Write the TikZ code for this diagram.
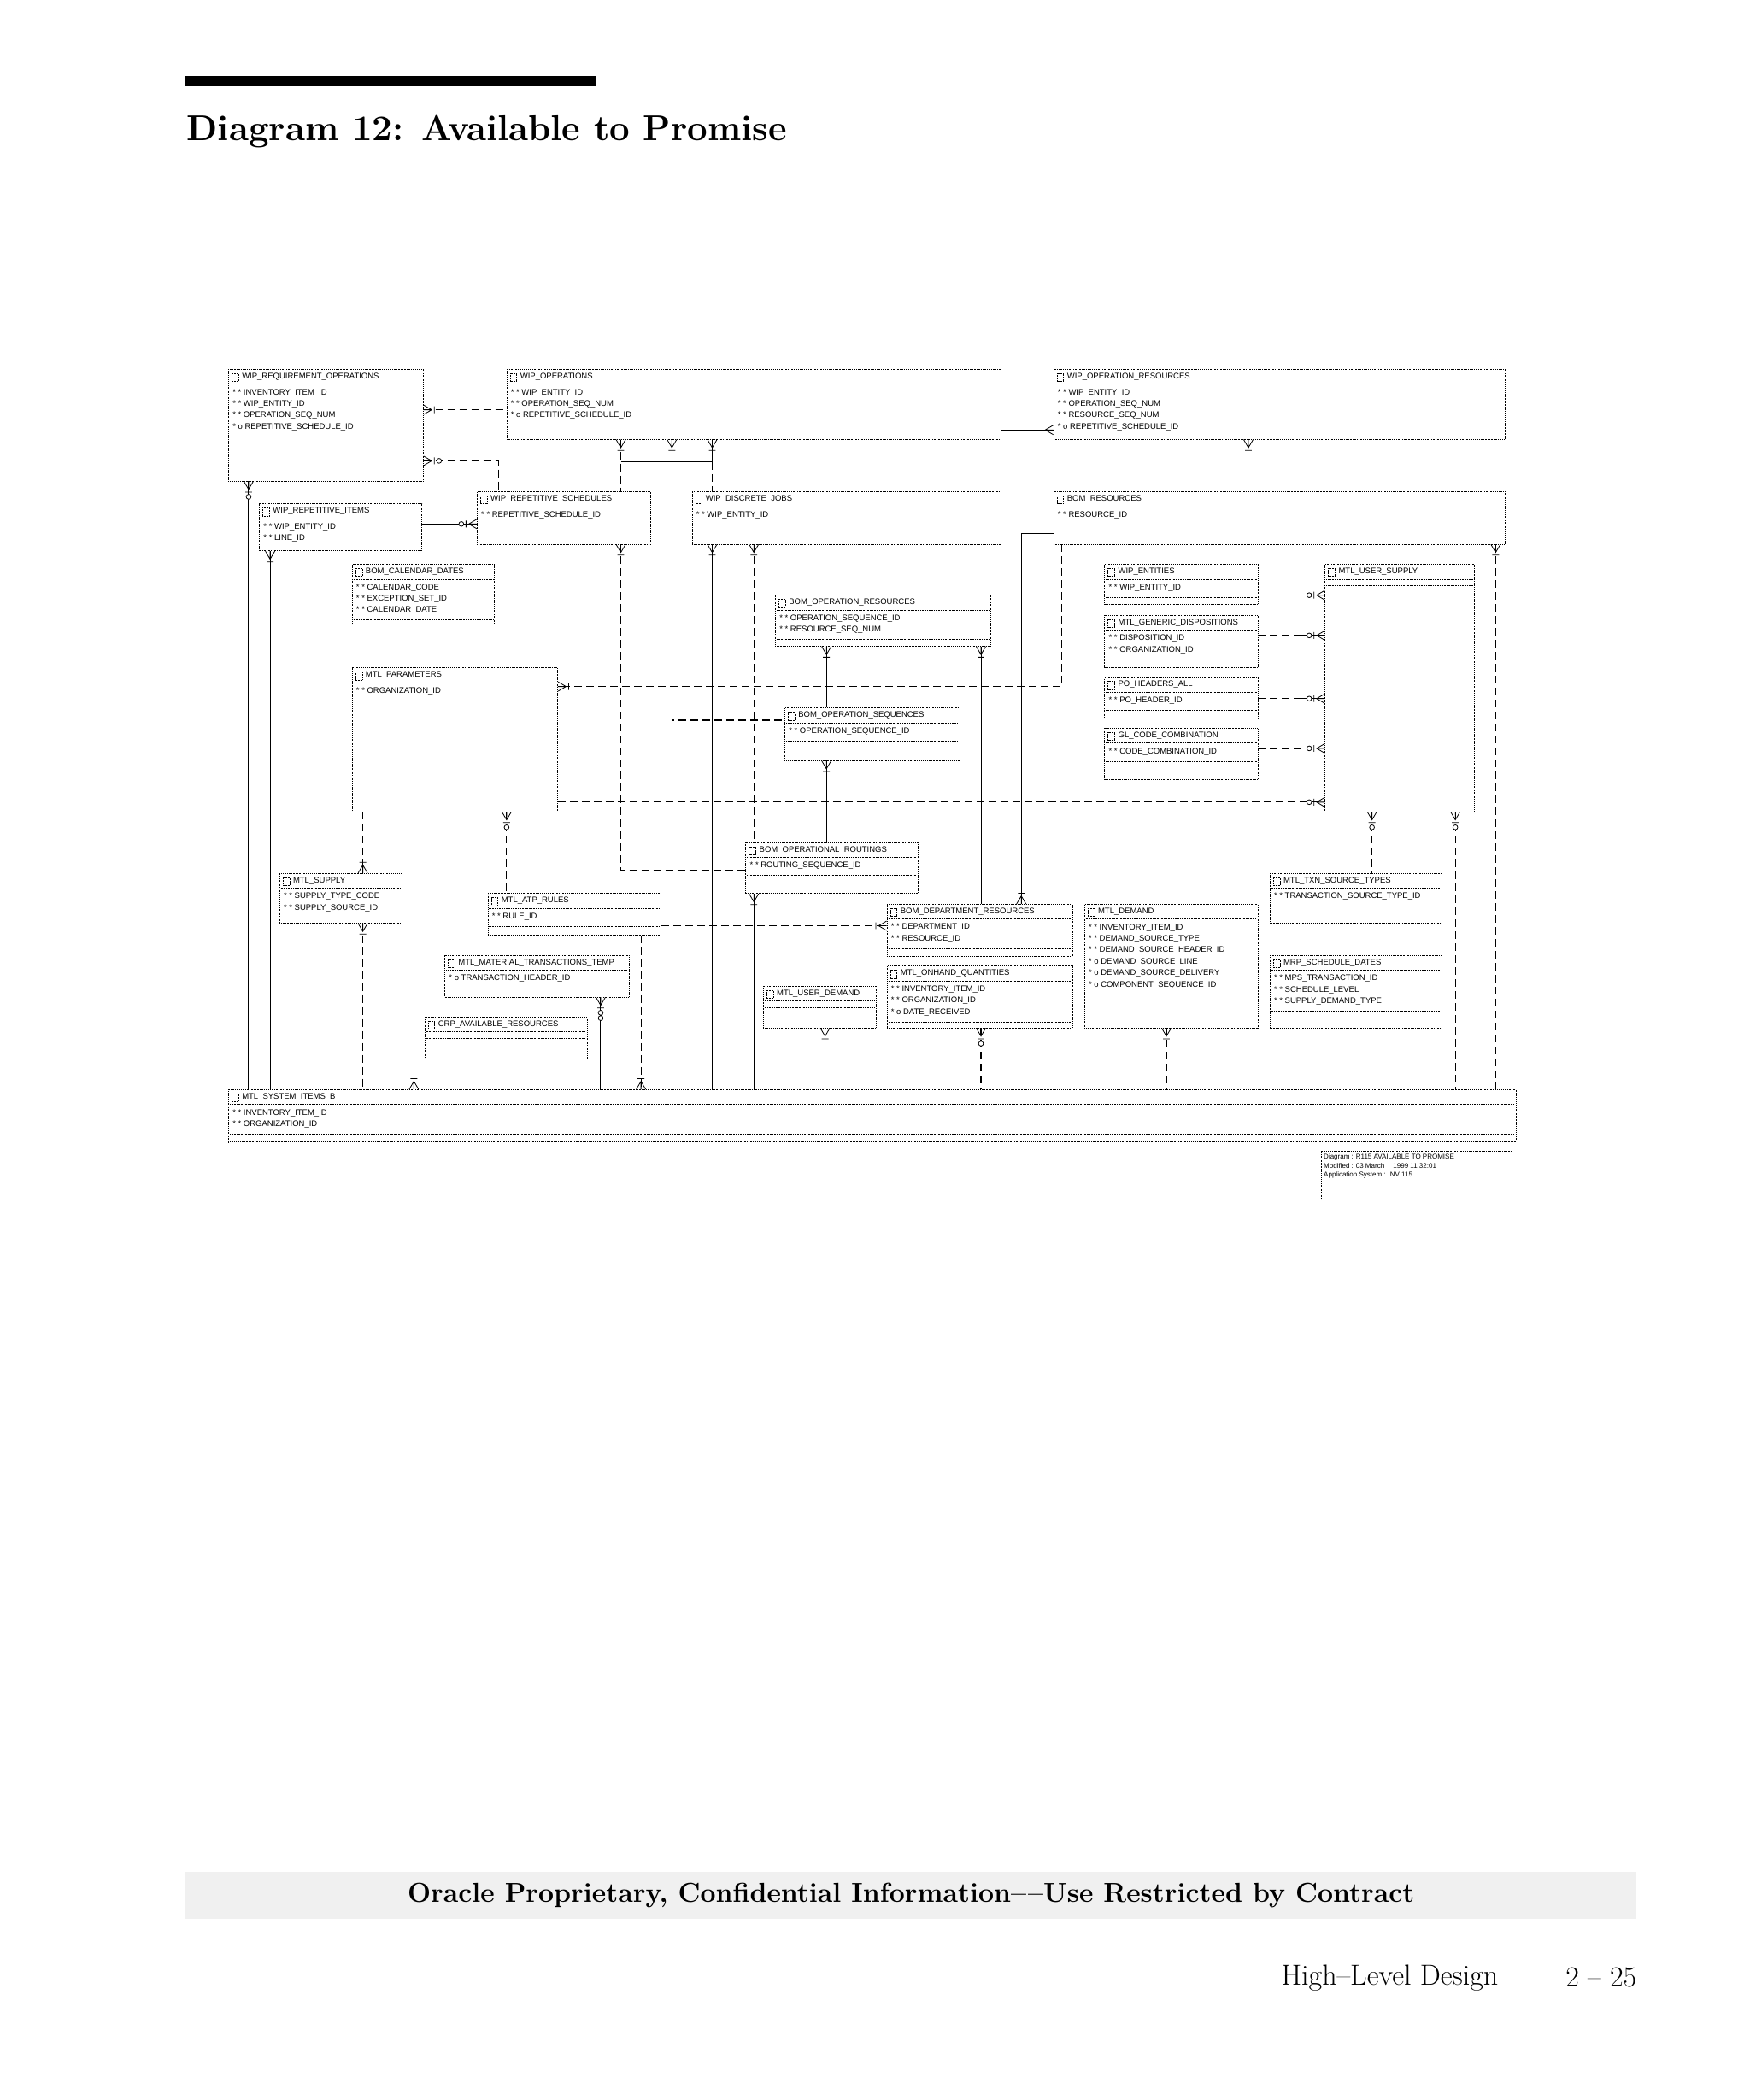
\documentclass[tikz,border=0pt]{standalone}
\usepackage{fontspec}
\usetikzlibrary{fit}
\newfontfamily\ef{Liberation Sans}
\begin{document}
\begin{tikzpicture}[x=1.573pt,y=-1.573pt,
 ebox/.style={draw,densely dotted,inner sep=0pt,line width=0.7pt},
 sep/.style={densely dotted,line width=0.6pt},
 icon/.style={densely dotted,line width=0.5pt},
 etitle/.style={anchor=west,inner sep=0pt,font=\ef\fontsize{9.5}{10}\selectfont},
 eattr/.style={anchor=north west,inner sep=0pt,align=left,font=\ef\fontsize{9.5}{13.4}\selectfont},
 dl/.style={line width=1.2pt,dash pattern=on 9pt off 5pt},
 sl/.style={line width=1pt},
 crow/.pic={\draw[solid,line width=0.8pt] (-3.5,0)--(0,6)--(3.5,0) (0,0)--(0,6);},
 crb/.pic={\draw[solid,line width=0.8pt] (-3.5,0)--(0,6)--(3.5,0) (0,0)--(0,6) (-2.5,8)--(2.5,8);},
 crbc/.pic={\draw[solid,line width=0.8pt] (-3.5,0)--(0,6)--(3.5,0) (0,0)--(0,6) (-2.5,8)--(2.5,8);
   \draw[solid,line width=0.8pt,fill=white] (0,11.5) circle (1.8);},
 crbcc/.pic={\draw[solid,line width=0.8pt] (-3.5,0)--(0,6)--(3.5,0) (0,0)--(0,6) (-2.5,8)--(2.5,8);
   \draw[solid,line width=0.8pt,fill=white] (0,11.5) circle (1.8) (0,15.5) circle (1.8);}
]
\newcommand\ent[8]{%
 \node[ebox, fit={(#2,#3)(#4,#5)}] (#1) {};
 \draw[sep] (#2+1,#3+11) -- (#4-1,#3+11);
 \draw[icon] (#2+2.5,#3+3) rectangle (#2+7.5,#3+9);
 \node[etitle] at (#2+10,#3+5.5) {#6};
 \node[eattr] at (#2+3,#3+14.5) {#7};
 \draw[sep] (#2+1,{#3+16+#8*8.5}) -- (#4-1,{#3+16+#8*8.5});
}
\useasboundingbox (0,0) rectangle (1302,1563);
\fill[white] (0,0) rectangle (1302,1563);
% header
\fill[black] (138,56.5) rectangle (443,64);
\node[anchor=west,inner sep=0pt,font=\bfseries\fontsize{42}{44}\selectfont] (title) at (139,98) {Diagram 12: Available to Promise};
% footer
\fill[black!6] (138,1393) rectangle (1218,1428);
\node[inner sep=0pt,font=\bfseries\fontsize{32}{34}\selectfont] (foot) at (678,1411) {Oracle Proprietary, Confidential Information–\kern2pt–Use Restricted by Contract};
\node[anchor=east,inner sep=0pt,font=\fontsize{34}{36}\selectfont] (hld) at (1115,1472) {High–Level Design};
\node[anchor=east,inner sep=0pt,font=\fontsize{34}{36}\selectfont] (pg) at (1218,1472) {2 – 25};

% entities
\ent{wro}{170}{275}{315}{358}{WIP\_REQUIREMENT\_OPERATIONS}{* * INVENTORY\_ITEM\_ID\\* * WIP\_ENTITY\_ID\\* * OPERATION\_SEQ\_NUM\\* o REPETITIVE\_SCHEDULE\_ID}{4}
\ent{wipops}{377}{275}{745}{327}{WIP\_OPERATIONS}{* * WIP\_ENTITY\_ID\\* * OPERATION\_SEQ\_NUM\\* o REPETITIVE\_SCHEDULE\_ID}{3}
\ent{wor}{784}{275}{1120}{327}{WIP\_OPERATION\_RESOURCES}{* * WIP\_ENTITY\_ID\\* * OPERATION\_SEQ\_NUM\\* * RESOURCE\_SEQ\_NUM\\* o REPETITIVE\_SCHEDULE\_ID}{4}
\ent{wri}{193}{375}{314}{410}{WIP\_REPETITIVE\_ITEMS}{* * WIP\_ENTITY\_ID\\* * LINE\_ID}{2}
\ent{wrs}{355}{366}{484}{405}{WIP\_REPETITIVE\_SCHEDULES}{* * REPETITIVE\_SCHEDULE\_ID}{1}
\ent{wdj}{515}{366}{745}{405}{WIP\_DISCRETE\_JOBS}{* * WIP\_ENTITY\_ID}{1}
\ent{br}{784}{366}{1120}{405}{BOM\_RESOURCES}{* * RESOURCE\_ID}{1}
\ent{bcd}{262}{420}{368}{465}{BOM\_CALENDAR\_DATES}{* * CALENDAR\_CODE\\* * EXCEPTION\_SET\_ID\\* * CALENDAR\_DATE}{3}
\ent{bopr}{577}{443}{737}{481}{BOM\_OPERATION\_RESOURCES}{* * OPERATION\_SEQUENCE\_ID\\* * RESOURCE\_SEQ\_NUM}{2}
\ent{mp}{262}{497}{415}{604}{MTL\_PARAMETERS}{* * ORGANIZATION\_ID}{1}
\ent{bos}{584}{527}{714}{566}{BOM\_OPERATION\_SEQUENCES}{* * OPERATION\_SEQUENCE\_ID}{1}
\ent{we}{822}{420}{936}{450}{WIP\_ENTITIES}{* * WIP\_ENTITY\_ID}{1}
\ent{mgd}{822}{458}{936}{497}{MTL\_GENERIC\_DISPOSITIONS}{* * DISPOSITION\_ID\\* * ORGANIZATION\_ID}{2}
\ent{poh}{822}{504}{936}{535}{PO\_HEADERS\_ALL}{* * PO\_HEADER\_ID}{1}
\ent{glc}{822}{542}{936}{580}{GL\_CODE\_COMBINATION}{* * CODE\_COMBINATION\_ID}{1}
\ent{mus}{986}{420}{1097}{604}{MTL\_USER\_SUPPLY}{}{0}
\ent{bor}{555}{627}{683}{665}{BOM\_OPERATIONAL\_ROUTINGS}{* * ROUTING\_SEQUENCE\_ID}{1}
\ent{ms}{208}{650}{299}{687}{MTL\_SUPPLY}{* * SUPPLY\_TYPE\_CODE\\* * SUPPLY\_SOURCE\_ID}{2}
\ent{atp}{363}{665}{492}{696}{MTL\_ATP\_RULES}{* * RULE\_ID}{1}
\ent{mts}{945}{650}{1073}{687}{MTL\_TXN\_SOURCE\_TYPES}{* * TRANSACTION\_SOURCE\_TYPE\_ID}{1}
\ent{bdr}{660}{673}{798}{712}{BOM\_DEPARTMENT\_RESOURCES}{* * DEPARTMENT\_ID\\* * RESOURCE\_ID}{2}
\ent{md}{807}{673}{936}{765}{MTL\_DEMAND}{* * INVENTORY\_ITEM\_ID\\* * DEMAND\_SOURCE\_TYPE\\* * DEMAND\_SOURCE\_HEADER\_ID\\* o DEMAND\_SOURCE\_LINE\\* o DEMAND\_SOURCE\_DELIVERY\\* o COMPONENT\_SEQUENCE\_ID}{6}
\ent{mmtt}{331}{711}{468}{742}{MTL\_MATERIAL\_TRANSACTIONS\_TEMP}{* o TRANSACTION\_HEADER\_ID}{1}
\ent{moq}{660}{719}{798}{765}{MTL\_ONHAND\_QUANTITIES}{* * INVENTORY\_ITEM\_ID\\* * ORGANIZATION\_ID\\* o DATE\_RECEIVED}{3}
\ent{mud}{568}{734}{652}{765}{MTL\_USER\_DEMAND}{}{0}
\ent{mrp}{945}{711}{1073}{765}{MRP\_SCHEDULE\_DATES}{* * MPS\_TRANSACTION\_ID\\* * SCHEDULE\_LEVEL\\* * SUPPLY\_DEMAND\_TYPE}{3}
\ent{crp}{316}{757}{437}{788}{CRP\_AVAILABLE\_RESOURCES}{}{0}
\ent{msi}{170}{811}{1128}{850}{MTL\_SYSTEM\_ITEMS\_B}{* * INVENTORY\_ITEM\_ID\\* * ORGANIZATION\_ID}{2}
\node[ebox, fit={(983,857)(1125,893)}] (info) {};
\node[anchor=north west,inner sep=0pt,align=left,font=\ef\fontsize{8}{10.2}\selectfont] (infot) at (985,859) {Diagram : R115 AVAILABLE TO PROMISE\\Modified : 03 March \quad 1999 11:32:01\\Application System : INV 115};

% connectors
\draw[dl] (wro.east|-0,305) -- (wipops.west|-0,305); \pic[rotate=90] at (wro.east|-0,305) {crb};
\draw[dl] (wro.east|-0,343) -- (371,343) -- (371,0|-wrs.north); \pic[rotate=90] at (wro.east|-0,343) {crbc};
\draw[dl] (462,0|-wipops.south) -- (462,0|-wrs.north); \pic at (462,0|-wipops.south) {crb};
\draw[dl] (500,0|-wipops.south) -- (500,536) -- (bos.west|-0,536); \pic at (500,0|-wipops.south) {crb};
\draw[sl] (530,0|-wipops.south) -- (530,344); \draw[dl] (530,344) -- (530,0|-wdj.north); \pic at (530,0|-wipops.south) {crb};
\draw[sl] (462,344) -- (530,344);
\draw[dl] (462,0|-wrs.south) -- (462,648) -- (bor.west|-0,648); \pic at (462,0|-wrs.south) {crb};
\draw[sl] (530,0|-wdj.south) -- (530,0|-msi.north); \pic at (530,0|-wdj.south) {crb};
\draw[dl] (561,0|-wdj.south) -- (561,0|-bor.north); \pic at (561,0|-wdj.south) {crb};
\draw[sl] (561,0|-bor.south) -- (561,0|-msi.north); \pic at (561,0|-bor.south) {crb};
\draw[sl] (wipops.east|-0,320) -- (wor.west|-0,320); \pic[rotate=-90] at (wor.west|-0,320) {crow};
\draw[sl] (929,0|-wor.south) -- (929,0|-br.north); \pic at (929,0|-wor.south) {crb};
\draw[sl] (br.west|-0,397) -- (760,397) -- (760,0|-bdr.north); \pic[rotate=180] at (760,0|-bdr.north) {crb};
\draw[sl] (730,0|-bopr.south) -- (730,0|-bdr.north); \pic at (730,0|-bopr.south) {crb};
\draw[sl] (615,0|-bopr.south) -- (615,0|-bos.north); \pic at (615,0|-bopr.south) {crb};
\draw[sl] (615,0|-bos.south) -- (615,0|-bor.north); \pic at (615,0|-bos.south) {crb};
\draw[dl] (790,0|-br.south) -- (790,511) -- (mp.east|-0,511); \pic[rotate=90] at (mp.east|-0,511) {crb};
\draw[dl] (1113,0|-br.south) -- (1113,0|-msi.north); \pic at (1113,0|-br.south) {crb};
\draw[dl] (1083,0|-mus.south) -- (1083,0|-msi.north); \pic at (1083,0|-mus.south) {crbc};
\draw[dl] (1021,0|-mus.south) -- (1021,0|-mts.north); \pic at (1021,0|-mus.south) {crbc};
\draw[dl] (mp.east|-0,597) -- (mus.west|-0,597); \pic[rotate=-90] at (mus.west|-0,597) {crbc};
\draw[dl] (we.east|-0,443) -- (968,443); \draw[sl] (968,443) -- (mus.west|-0,443); \pic[rotate=-90] at (mus.west|-0,443) {crbc};
\draw[dl] (mgd.east|-0,473) -- (968,473); \draw[sl] (968,473) -- (mus.west|-0,473); \pic[rotate=-90] at (mus.west|-0,473) {crbc};
\draw[dl] (poh.east|-0,520) -- (968,520); \draw[sl] (968,520) -- (mus.west|-0,520); \pic[rotate=-90] at (mus.west|-0,520) {crbc};
\draw[dl] (glc.east|-0,557) -- (968,557); \draw[sl] (968,557) -- (mus.west|-0,557); \pic[rotate=-90] at (mus.west|-0,557) {crbc};
\draw[sl] (968,441) -- (968,559);
\draw[dl] (270,0|-mp.south) -- (270,0|-ms.north); \pic[rotate=180] at (270,0|-ms.north) {crb};
\draw[dl] (308,0|-mp.south) -- (308,0|-msi.north); \pic[rotate=180] at (308,0|-msi.north) {crb};
\draw[dl] (377,0|-mp.south) -- (377,0|-atp.north); \pic at (377,0|-mp.south) {crbc};
\draw[dl] (270,0|-ms.south) -- (270,0|-msi.north); \pic at (270,0|-ms.south) {crb};
\draw[dl] (atp.east|-0,689) -- (bdr.west|-0,689); \pic[rotate=-90] at (bdr.west|-0,689) {crb};
\draw[dl] (477,0|-atp.south) -- (477,0|-msi.north); \pic[rotate=180] at (477,0|-msi.north) {crb};
\draw[sl] (447,0|-mmtt.south) -- (447,0|-msi.north); \pic at (447,0|-mmtt.south) {crbcc};
\draw[sl] (614,0|-mud.south) -- (614,0|-msi.north); \pic at (614,0|-mud.south) {crb};
\draw[dl] (730,0|-moq.south) -- (730,0|-msi.north); \pic at (730,0|-moq.south) {crbc};
\draw[dl] (868,0|-md.south) -- (868,0|-msi.north); \pic at (868,0|-md.south) {crb};
\draw[sl] (185,0|-wro.south) -- (185,0|-msi.north); \pic at (185,0|-wro.south) {crbc};
\draw[sl] (201,0|-wri.south) -- (201,0|-msi.north); \pic at (201,0|-wri.south) {crb};
\draw[sl] (wri.east|-0,390) -- (wrs.west|-0,390); \pic[rotate=-90] at (wrs.west|-0,390) {crbc};
\end{tikzpicture}
\end{document}
